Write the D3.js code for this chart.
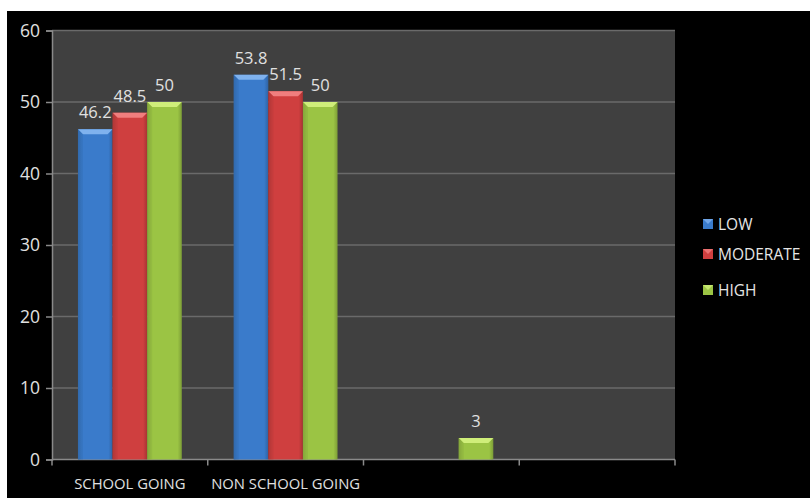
<!DOCTYPE html>
<html><head><meta charset="utf-8">
<script src="https://cdn.jsdelivr.net/npm/d3@7"></script>
<style>body{margin:0;background:#fff}svg{display:block}text{font-family:"Open Sans",sans-serif}</style>
</head><body><svg id="c" width="810" height="498"></svg>
<script>
const categories = ["SCHOOL GOING", "NON SCHOOL GOING", "", ""];
const seriesNames = ["LOW", "MODERATE", "HIGH"];
const low = [46.2, 53.8, null, null];
const moderate = [48.5, 51.5, null, null];
const high = [50, 50, 3, null];
const yTicks = [0, 10, 20, 30, 40, 50, 60];
const colors = ["#3a7bcb", "#cf3f3f", "#9bc444"];
const lights = ["#7fb2ee", "#f07e7e", "#cfee7a"];

const series = [low, moderate, high];
const svg = d3.select("#c");
svg.append("rect").attr("x", 7).attr("y", 11).attr("width", 803).attr("height", 487).attr("fill", "#000");

const m = {l: 52, r: 675, t: 30.5, b: 459.5};
const x = d3.scaleBand().domain(d3.range(categories.length)).range([m.l, m.r]).paddingInner(0).paddingOuter(0);
const y = d3.scaleLinear().domain([0, 60]).range([m.b, m.t]);
const inner = d3.scaleBand().domain(d3.range(3)).range([0, x.bandwidth()]).paddingOuter(0.75).paddingInner(0);

const defs = svg.append("defs");
series.forEach((s, i) => {
  const g = defs.append("linearGradient").attr("id", "g" + i).attr("x1", 0).attr("x2", 1).attr("y1", 0).attr("y2", 0);
  const c = d3.color(colors[i]);
  g.append("stop").attr("offset", 0).attr("stop-color", c.darker(0.6));
  g.append("stop").attr("offset", 0.12).attr("stop-color", c);
  g.append("stop").attr("offset", 0.88).attr("stop-color", c);
  g.append("stop").attr("offset", 1).attr("stop-color", c.darker(0.6));
});

svg.append("rect").attr("x", m.l).attr("y", m.t).attr("width", m.r - m.l).attr("height", m.b - m.t).attr("fill", "#404040");

svg.append("g").selectAll("line").data(yTicks.filter(d => d > 0)).join("line")
  .attr("x1", m.l).attr("x2", m.r).attr("y1", d => y(d)).attr("y2", d => y(d))
  .attr("stroke", "#6a6a6a").attr("stroke-width", 1.5);

// y axis
const ya = svg.append("g").attr("transform", `translate(${m.l},0)`)
  .call(d3.axisLeft(y).tickValues(yTicks).tickSize(6).tickPadding(6));
ya.select(".domain").attr("stroke", "#8a8a8a").attr("stroke-width", 1.5);
ya.selectAll(".tick line").attr("stroke", "#8a8a8a").attr("stroke-width", 1.5);
ya.selectAll(".tick text").attr("fill", "#e0e0e0").attr("font-size", 17.5).attr("font-family", "Open Sans, sans-serif");

// x axis
const xa = svg.append("g").attr("transform", `translate(0,${m.b})`);
xa.append("line").attr("x1", m.l).attr("x2", m.r).attr("stroke", "#8a8a8a").attr("stroke-width", 1.5);
const edges = d3.range(categories.length + 1).map(i => i < categories.length ? x(i) : x(categories.length - 1) + x.bandwidth());
xa.selectAll("line.t").data(edges).join("line").attr("class", "t")
  .attr("x1", d => d).attr("x2", d => d).attr("y1", 0).attr("y2", 6).attr("stroke", "#8a8a8a").attr("stroke-width", 1.5);
xa.selectAll("text").data(categories).join("text")
  .attr("x", (d, i) => x(i) + x.bandwidth() / 2).attr("y", 29)
  .attr("text-anchor", "middle").attr("fill", "#e0e0e0").attr("font-size", 14.8).text(d => d);

// bars
series.forEach((s, si) => {
  const g = svg.append("g");
  s.forEach((v, ci) => {
    if (v == null) return;
    const bx = x(ci) + inner(si), bw = inner.bandwidth(), by = y(v), bh = y(0) - y(v);
    g.append("rect").attr("x", bx).attr("y", by).attr("width", bw).attr("height", bh).attr("fill", `url(#g${si})`);
    const bv = Math.min(5, bh / 2);
    g.append("path").attr("d", `M${bx},${by}L${bx + bw},${by}L${bx + bw - bv},${by + bv}L${bx + bv},${by + bv}Z`)
      .attr("fill", lights[si]);
    g.append("path").attr("d", `M${bx},${by}L${bx + bv},${by + bv}L${bx + bv},${by + bh}L${bx},${by + bh}Z`)
      .attr("fill", d3.color(colors[si]).darker(0.3)).attr("opacity", 0.5);
    g.append("text").attr("x", bx + bw / 2).attr("y", by - 11).attr("text-anchor", "middle")
      .attr("fill", "#e0e0e0").attr("font-size", 16.5).text(v);
  });
});

// legend
const lg = svg.append("g");
const ly = [224, 254, 290];
seriesNames.forEach((n, i) => {
  lg.append("rect").attr("x", 703).attr("y", ly[i] - 5).attr("width", 10).attr("height", 10).attr("fill", colors[i]);
  lg.append("path").attr("d", `M${703},${ly[i] - 5}L${713},${ly[i] - 5}L${708},${ly[i]}Z`).attr("fill", lights[i]).attr("opacity", 0.8);
  lg.append("text").attr("x", 718).attr("y", ly[i] + 5.5).attr("fill", "#e6e6e6").attr("font-size", 15.5).text(n);
});
</script></body></html>
